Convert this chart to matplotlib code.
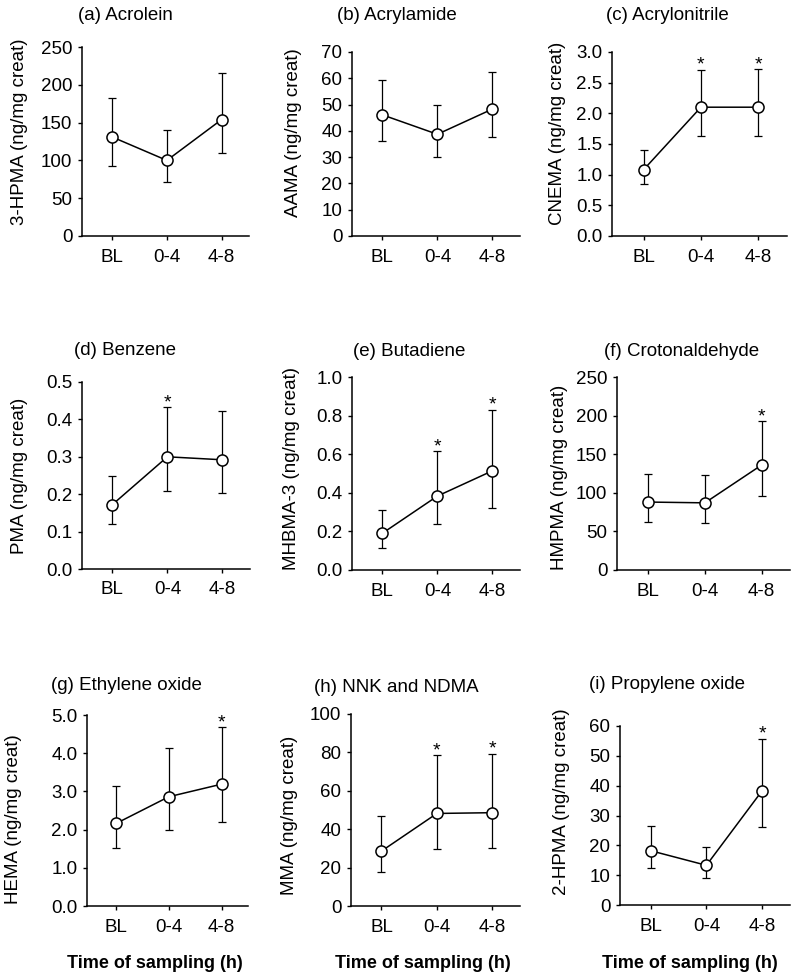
import numpy as np
import matplotlib
matplotlib.use("Agg")
import matplotlib.pyplot as plt
from matplotlib.ticker import FormatStrFormatter

plt.rcParams['font.family'] = ['Liberation Sans', 'DejaVu Sans']

W, H = 800, 980

times = ["BL", "0-4", "4-8"]

titles = ["(a) Acrolein", "(b) Acrylamide", "(c) Acrylonitrile",
          "(d) Benzene", "(e) Butadiene", "(f) Crotonaldehyde",
          "(g) Ethylene oxide", "(h) NNK and NDMA", "(i) Propylene oxide"]
ylabels = ["3-HPMA (ng/mg creat)", "AAMA (ng/mg creat)", "CNEMA (ng/mg creat)",
           "PMA (ng/mg creat)", "MHBMA-3 (ng/mg creat)", "HMPMA (ng/mg creat)",
           "HEMA (ng/mg creat)", "MMA (ng/mg creat)", "2-HPMA (ng/mg creat)"]

# means and error bar ends (lower, upper)
acrolein_mean = [131, 100, 154]
acrolein_low = [93, 72, 110]
acrolein_high = [183, 140, 215]

acrylamide_mean = [46.1, 38.7, 48.3]
acrylamide_low = [36.0, 30.0, 37.7]
acrylamide_high = [59.3, 49.7, 62.3]

acrylonitrile_mean = [1.08, 2.10, 2.10]
acrylonitrile_low = [0.85, 1.63, 1.63]
acrylonitrile_high = [1.40, 2.71, 2.72]

benzene_mean = [0.172, 0.300, 0.292]
benzene_low = [0.119, 0.208, 0.203]
benzene_high = [0.249, 0.433, 0.423]

butadiene_mean = [0.19, 0.383, 0.514]
butadiene_low = [0.113, 0.24, 0.32]
butadiene_high = [0.31, 0.617, 0.831]

crotonaldehyde_mean = [88, 87, 136]
crotonaldehyde_low = [62.5, 61, 96]
crotonaldehyde_high = [125, 123, 193]

ethylene_mean = [2.16, 2.86, 3.19]
ethylene_low = [1.51, 1.99, 2.19]
ethylene_high = [3.13, 4.13, 4.69]

nnk_mean = [28.6, 48.2, 48.6]
nnk_low = [17.8, 29.8, 30.0]
nnk_high = [46.9, 78.7, 79.3]

propylene_mean = [18.2, 13.3, 38.3]
propylene_low = [12.4, 9.0, 26.3]
propylene_high = [26.5, 19.4, 55.8]

# positions flagged with an asterisk
stars = [[], [], [1, 2], [1], [1, 2], [2], [2], [1, 2], [2]]

means = [acrolein_mean, acrylamide_mean, acrylonitrile_mean, benzene_mean, butadiene_mean,
         crotonaldehyde_mean, ethylene_mean, nnk_mean, propylene_mean]
lows = [acrolein_low, acrylamide_low, acrylonitrile_low, benzene_low, butadiene_low,
        crotonaldehyde_low, ethylene_low, nnk_low, propylene_low]
highs = [acrolein_high, acrylamide_high, acrylonitrile_high, benzene_high, butadiene_high,
         crotonaldehyde_high, ethylene_high, nnk_high, propylene_high]

yticks = [np.arange(0, 251, 50), np.arange(0, 71, 10), np.arange(0, 3.01, 0.5),
          np.arange(0, 0.501, 0.1), np.arange(0, 1.01, 0.2), np.arange(0, 251, 50),
          np.arange(0, 5.01, 1.0), np.arange(0, 101, 20), np.arange(0, 61, 10)]
yfmt = ["%d", "%d", "%.1f", "%.1f", "%.1f", "%d", "%.1f", "%d", "%d"]

# axes boxes in pixels: left, top, right, bottom
boxes = [(82, 47, 249, 236), (352, 52, 520, 236), (612, 52, 787, 236),
         (82, 382, 250, 569), (352, 377, 520, 570), (617, 377, 790, 570),
         (87, 715, 248, 906), (351, 714, 520, 906), (620, 726, 790, 905)]
title_pos = [(125, 16), (397, 16), (667, 16),
             (125, 350), (409, 352), (682, 351),
             (126, 685), (396, 687), (667, 684)]
ylabel_pos = [(20, 132), (293, 133), (558, 133),
              (20, 476), (292, 468), (560, 477),
              (14, 819), (290, 815), (562, 802)]
xlabel_pos = [(155, 963), (423, 963), (690, 963)]

fig = plt.figure(figsize=(W / 100, H / 100), dpi=100)

for i in range(9):
    l, t, r, b = boxes[i]
    ax = fig.add_axes([l / W, 1 - b / H, (r - l) / W, (b - t) / H])
    m = np.array(means[i])
    lo = np.array(lows[i])
    hi = np.array(highs[i])
    x = np.arange(len(times))
    ax.errorbar(x, m, yerr=[m - lo, hi - m], fmt='none', ecolor='black',
                elinewidth=0.9, capsize=3, capthick=0.9, zorder=2)
    ax.plot(x, m, color='black', lw=1.1, marker='o', markersize=8,
            markerfacecolor='white', markeredgecolor='black', markeredgewidth=1.1, zorder=3)
    for s in stars[i]:
        ax.annotate('*', (x[s], hi[s]), xytext=(0, -3), textcoords='offset points',
                    ha='center', va='bottom', fontsize=14, annotation_clip=False)
    ax.set_xlim(-0.55, 2.5)
    ax.set_ylim(0, yticks[i][-1])
    ax.set_xticks(x)
    ax.set_xticklabels(times)
    ax.set_yticks(yticks[i])
    ax.yaxis.set_major_formatter(FormatStrFormatter(yfmt[i]))
    ax.tick_params(axis='both', labelsize=13.5, length=3, width=1, direction='out', pad=4)
    ax.tick_params(axis='x', pad=6)
    for side in ['top', 'right']:
        ax.spines[side].set_visible(False)
    for side in ['left', 'bottom']:
        ax.spines[side].set_linewidth(1.1)

    tx, ty = title_pos[i]
    fig.text(tx / W, 1 - ty / H, titles[i], ha='center', va='center', fontsize=13.5)
    lx, ly = ylabel_pos[i]
    fig.text(lx / W, 1 - ly / H, ylabels[i], ha='center', va='center', rotation=90, fontsize=13.5)

for xx, yy in xlabel_pos:
    fig.text(xx / W, 1 - yy / H, "Time of sampling (h)", ha='center', va='center',
             fontsize=13, fontweight='bold')

fig.savefig("out.png", dpi=100, facecolor='white')
